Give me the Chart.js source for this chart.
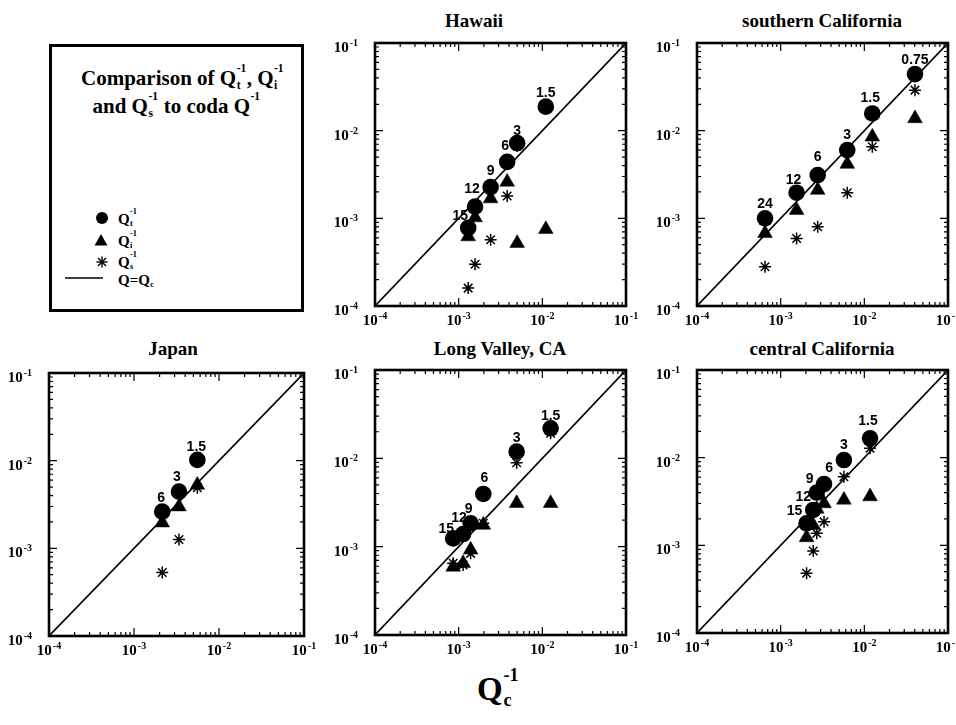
<!DOCTYPE html>
<html>
<head>
<meta charset="utf-8">
<script src="https://cdn.jsdelivr.net/npm/chart.js@4.4.1/dist/chart.umd.min.js"></script>
<style>
  html, body { margin: 0; padding: 0; background: #fff; overflow: hidden; }
  body { width: 956px; height: 725px; position: relative; color: #000;
         font-family: "Liberation Serif", "Times New Roman", serif; font-weight: bold; }
  canvas { position: absolute; }
  .ptitle { position: absolute; font-size: 19px; line-height: 19px; white-space: nowrap; transform: translateX(-50%); }
  #legendBox { position: absolute; left: 49px; top: 44px; width: 255px; height: 268px;
               box-sizing: border-box; border: 3px solid #000; }
  .ltitle { position: absolute; left: 0; width: 100%; text-align: center; font-size: 21px; line-height: 28px; white-space: nowrap; }
  .lrow { position: absolute; left: 66px; font-size: 15px; line-height: 15px; white-space: nowrap; }
  .mk { position: absolute; }
  .ss { display: inline-block; position: relative; width: 0.5em; height: 1em; }
  .ss i { position: absolute; left: 0.04em; font-style: normal; font-size: 0.55em; line-height: 1; }
  .ss .p { top: -4%; }
  .ss .b { top: 74%; }
  #bigLabel { position: absolute; left: 477px; top: 667px; font-size: 33px; line-height: 34px; }
</style>
</head>
<body>

<div class="ptitle" style="left:474px; top:11px;">Hawaii</div>
<div class="ptitle" style="left:822px; top:11px;">southern California</div>
<div class="ptitle" style="left:173px; top:339px;">Japan</div>
<div class="ptitle" style="left:500px; top:339px;">Long Valley, CA</div>
<div class="ptitle" style="left:822px; top:339px;">central California</div>

<div id="legendBox">
  <div class="ltitle" style="top:17px; left:6px;">Comparison of Q<span class="ss"><i class="p">-1</i><i class="b">t</i></span>, Q<span class="ss"><i class="p">-1</i><i class="b">i</i></span></div>
  <div class="ltitle" style="top:45px;">and Q<span class="ss"><i class="p">-1</i><i class="b">s</i></span> to coda Q<span class="ss"><i class="p">-1</i></span></div>

  <svg class="mk" style="left:43px; top:164px;" width="14" height="14"><circle cx="7" cy="7" r="6" fill="#000"/></svg>
  <svg class="mk" style="left:42px; top:186px;" width="14" height="14"><polygon points="7,1 13.5,12.5 0.5,12.5" fill="#000"/></svg>
  <svg class="mk" style="left:43px; top:208px;" width="14" height="14" stroke="#000" stroke-width="1.4">
    <line x1="7" y1="1.5" x2="7" y2="12.5"/><line x1="1.5" y1="7" x2="12.5" y2="7"/>
    <line x1="3" y1="3" x2="11" y2="11"/><line x1="11" y1="3" x2="3" y2="11"/></svg>
  <svg class="mk" style="left:13px; top:229px;" width="38" height="4"><line x1="0" y1="2" x2="38" y2="2" stroke="#000" stroke-width="1.5"/></svg>

  <div class="lrow" style="top:162px;">Q<span class="ss"><i class="p">-1</i><i class="b">t</i></span></div>
  <div class="lrow" style="top:184px;">Q<span class="ss"><i class="p">-1</i><i class="b">i</i></span></div>
  <div class="lrow" style="top:205px;">Q<span class="ss"><i class="p">-1</i><i class="b">s</i></span></div>
  <div class="lrow" style="top:223px;">Q=Q<span class="ss"><i class="b">c</i></span></div>
</div>

<div id="bigLabel">Q<span class="ss" style="width:0.6em"><i class="p">-1</i><i class="b">c</i></span></div>

<script>
// axis ticks (shared by all panels)
const tickValues = [1e-4, 1e-3, 1e-2, 1e-1];
const tickExps = ['-4', '-3', '-2', '-1'];
const minorSteps = [2, 3, 4, 5, 6, 7, 8, 9];

// Hawaii
const hawaiiFreq = ['1.5', '3', '6', '9', '12', '15'];
const hawaiiQc = [0.0110, 0.0050, 0.0038, 0.00241, 0.00157, 0.0013];
const hawaiiQt = [0.0188, 0.0072, 0.0044, 0.00227, 0.00136, 0.00078];
const hawaiiQi = [0.00075, 0.00052, 0.0026, 0.00168, 0.00102, 0.00062];
const hawaiiQs = [0.018, 0.0067, 0.0018, 0.00057, 0.0003, 0.00016];

// southern California
const socalFreq = ['0.75', '1.5', '3', '6', '12', '24'];
const socalQc = [0.0403, 0.01245, 0.00625, 0.00277, 0.00155, 0.00065];
const socalQt = [0.0442, 0.0157, 0.0060, 0.00312, 0.00196, 0.0010];
const socalQi = [0.0138, 0.0085, 0.00416, 0.0021, 0.00124, 0.000675];
const socalQs = [0.029, 0.00655, 0.00196, 0.0008, 0.00059, 0.00028];

// Japan
const japanFreq = ['1.5', '3', '6'];
const japanQc = [0.00556, 0.00338, 0.00215];
const japanQt = [0.0102, 0.00443, 0.00262];
const japanQi = [0.00527, 0.00299, 0.00196];
const japanQs = [0.0049, 0.00126, 0.00053];

// Long Valley, CA
const lvFreq = ['1.5', '3', '6', '9', '12', '15'];
const lvQc = [0.01256, 0.00493, 0.00197, 0.00139, 0.00113, 0.00086];
const lvQt = [0.0219, 0.0119, 0.00395, 0.00184, 0.00139, 0.00124];
const lvQi = [0.0031, 0.0031, 0.00176, 0.00092, 0.00065, 0.00059];
const lvQs = [0.0192, 0.0089, 0.00184, 0.00084, 0.00062, 0.00065];

// central California
const ccFreq = ['1.5', '3', '6', '9', '12', '15'];
const ccQc = [0.0117, 0.0057, 0.0033, 0.0027, 0.00245, 0.00204];
const ccQt = [0.0166, 0.0094, 0.0050, 0.0040, 0.00253, 0.00178];
const ccQi = [0.0036, 0.0033, 0.0030, 0.0026, 0.0017, 0.00123];
const ccQs = [0.0128, 0.00605, 0.00186, 0.00137, 0.00086, 0.00048];

// label nudges [dx, dy] relative to each circle
const hawaiiShift = [[0, -13], [0, -12], [-2, -16], [0, -16], [-3, -17], [-8, -12]];
const socalShift = [[0, -14], [-2, -15], [0, -15], [0, -18], [-3, -13], [0, -14]];
const japanShift = [[-1, -13], [-2, -15], [-1, -14]];
const lvShift = [[0, -12], [0, -14], [1, -16], [-2, -14], [-4, -16], [-7, -9]];
const ccShift = [[-2, -17], [0, -15], [5, -16], [-7, -13], [-10, -13], [-12, -12]];

const panels = [
  { box: [375, 43, 626, 306], freq: hawaiiFreq, qc: hawaiiQc, qt: hawaiiQt, qi: hawaiiQi, qs: hawaiiQs, shift: hawaiiShift },
  { box: [697, 43, 948, 306], freq: socalFreq, qc: socalQc, qt: socalQt, qi: socalQi, qs: socalQs, shift: socalShift },
  { box: [49, 373, 304, 636], freq: japanFreq, qc: japanQc, qt: japanQt, qi: japanQi, qs: japanQs, shift: japanShift },
  { box: [375, 370, 626, 635], freq: lvFreq, qc: lvQc, qt: lvQt, qi: lvQi, qs: lvQs, shift: lvShift },
  { box: [697, 370, 948, 633], freq: ccFreq, qc: ccQc, qt: ccQt, qi: ccQi, qs: ccQs, shift: ccShift }
];

const PAD = { left: 50, top: 10, right: 22, bottom: 28 };

// "10" with a small raised exponent
function drawPow(ctx, x, base, exp, align) {
  ctx.font = 'bold 15px "Liberation Serif", serif';
  const w10 = ctx.measureText('10').width;
  ctx.font = 'bold 10px "Liberation Serif", serif';
  const wExp = ctx.measureText(exp).width;
  const total = w10 + wExp + 1;
  let x0 = align === 'right' ? x - total : x - total / 2;
  ctx.textAlign = 'left';
  ctx.textBaseline = 'alphabetic';
  ctx.font = 'bold 15px "Liberation Serif", serif';
  ctx.fillText('10', x0, base);
  ctx.font = 'bold 10px "Liberation Serif", serif';
  ctx.fillText(exp, x0 + w10 + 1, base - 6);
}

function makeDecor(p) {
  return {
    id: 'decor',
    beforeDatasetsDraw(chart) {
      const { ctx, chartArea: a, scales: { x, y } } = chart;
      ctx.save();
      ctx.strokeStyle = '#000';
      ctx.lineWidth = 1.2;
      ctx.beginPath();
      tickValues.forEach((d, i) => {
        const steps = i < tickValues.length - 1 ? [1, ...minorSteps] : [1];
        steps.forEach(k => {
          const len = k === 1 ? 8 : 4;
          const px = x.getPixelForValue(d * k), py = y.getPixelForValue(d * k);
          ctx.moveTo(px, a.bottom); ctx.lineTo(px, a.bottom - len);
          ctx.moveTo(px, a.top); ctx.lineTo(px, a.top + len);
          ctx.moveTo(a.left, py); ctx.lineTo(a.left + len, py);
          ctx.moveTo(a.right, py); ctx.lineTo(a.right - len, py);
        });
      });
      ctx.stroke();
      ctx.lineWidth = 2.6;
      ctx.strokeRect(a.left, a.top, a.right - a.left, a.bottom - a.top);

      ctx.fillStyle = '#000';
      tickValues.forEach((v, i) => {
        drawPow(ctx, x.getPixelForValue(v), a.bottom + 19, tickExps[i], 'center');
        drawPow(ctx, a.left - 17, y.getPixelForValue(v) + 9, tickExps[i], 'right');
      });
      ctx.restore();
    },
    afterDatasetsDraw(chart) {
      const { ctx } = chart;
      const meta = chart.getDatasetMeta(0);
      ctx.save();
      ctx.fillStyle = '#000';
      ctx.font = 'bold 14px "Liberation Sans", Arial, sans-serif';
      ctx.textAlign = 'center';
      ctx.textBaseline = 'middle';
      meta.data.forEach((pt, i) => {
        const [dx, dy] = p.shift[i];
        ctx.fillText(p.freq[i], pt.x + dx, pt.y + dy);
      });
      ctx.restore();
    }
  };
}

panels.forEach(p => {
  const [L, T, R, B] = p.box;
  const cv = document.createElement('canvas');
  cv.width = R - L + PAD.left + PAD.right;
  cv.height = B - T + PAD.top + PAD.bottom;
  cv.style.left = (L - PAD.left) + 'px';
  cv.style.top = (T - PAD.top) + 'px';
  document.body.appendChild(cv);

  const pts = ys => p.qc.map((qc, i) => ({ x: qc, y: ys[i] }));

  new Chart(cv, {
    type: 'scatter',
    data: {
      datasets: [
        { label: 'Qt', data: pts(p.qt), pointStyle: 'circle', pointRadius: 8.3,
          backgroundColor: '#000', borderColor: '#000', borderWidth: 0, order: 0 },
        { label: 'Qi', data: pts(p.qi), pointStyle: 'triangle', pointRadius: 8.5,
          backgroundColor: '#000', borderColor: '#000', borderWidth: 0.5, order: 1 },
        { label: 'Qs', data: pts(p.qs), pointStyle: 'star', pointRadius: 6,
          backgroundColor: '#000', borderColor: '#000', borderWidth: 1.5, order: 2 },
        { label: 'Q=Qc', data: [{ x: 1e-4, y: 1e-4 }, { x: 1e-1, y: 1e-1 }], showLine: true,
          pointRadius: 0, borderColor: '#000', borderWidth: 1.6, order: 3 }
      ]
    },
    options: {
      responsive: false,
      animation: false,
      events: [],
      layout: { padding: PAD },
      plugins: { legend: { display: false }, tooltip: { enabled: false }, title: { display: false } },
      scales: {
        x: { type: 'logarithmic', min: 1e-4, max: 1e-1, display: false },
        y: { type: 'logarithmic', min: 1e-4, max: 1e-1, display: false }
      }
    },
    plugins: [makeDecor(p)]
  });
});
</script>
</body>
</html>
